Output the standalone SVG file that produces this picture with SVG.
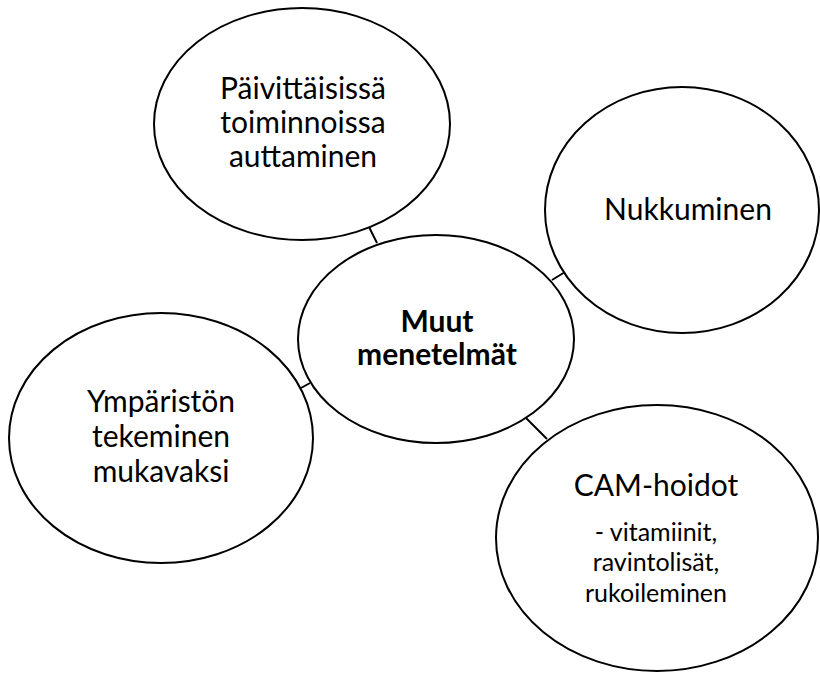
<svg xmlns="http://www.w3.org/2000/svg" width="820" height="673" viewBox="0 0 820 673">
<style>
.n{fill:#fff;stroke:#000;stroke-width:2}
.c{stroke:#000;stroke-width:2;fill:none}
text{font-family:Lato,"Open Sans",sans-serif;fill:#000;text-anchor:middle}
.t{font-size:30px}
.b{font-size:30px;font-weight:bold}
.s{font-size:25px}
</style>
<rect width="820" height="673" fill="#fff"/>
<g id="connectors">
<line class="c" x1="369" y1="227" x2="377" y2="243"/>
<line class="c" x1="552" y1="280" x2="565" y2="272"/>
<line class="c" x1="301" y1="388" x2="310" y2="383"/>
<line class="c" x1="526" y1="418" x2="547" y2="439"/>
</g>
<g id="daily">
<ellipse class="n" cx="302" cy="124" rx="148" ry="116"/>
<text class="t" x="303" y="99">Päivittäisissä</text>
<text class="t" x="303" y="133">toiminnoissa</text>
<text class="t" x="303" y="167">auttaminen</text>
</g>
<g id="sleep">
<ellipse class="n" cx="682" cy="210" rx="137" ry="123"/>
<text class="t" x="688" y="220">Nukkuminen</text>
</g>
<g id="center">
<ellipse class="n" cx="436" cy="339" rx="138" ry="104"/>
<text class="b" x="437" y="332">Muut</text>
<text class="b" x="437" y="365">menetelmät</text>
</g>
<g id="environment">
<ellipse class="n" cx="161" cy="438" rx="152" ry="125"/>
<text class="t" x="161" y="412">Ympäristön</text>
<text class="t" x="161" y="447">tekeminen</text>
<text class="t" x="161" y="482">mukavaksi</text>
</g>
<g id="cam">
<ellipse class="n" cx="657" cy="538" rx="161" ry="133"/>
<text class="t" x="656" y="496">CAM-hoidot</text>
<text class="s" x="656" y="541">- vitamiinit,</text>
<text class="s" x="656" y="571">ravintolisät,</text>
<text class="s" x="656" y="602">rukoileminen</text>
</g>
</svg>
